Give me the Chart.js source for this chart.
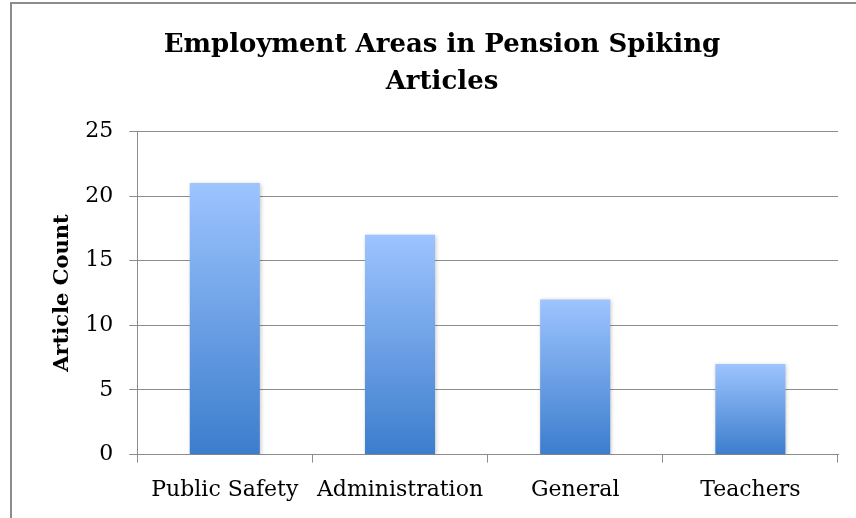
<!DOCTYPE html>
<html>
<head>
<meta charset="utf-8">
<script src="https://cdn.jsdelivr.net/npm/chart.js@4/dist/chart.umd.min.js"></script>
<style>
  html, body { margin: 0; padding: 0; background: #fff; }
  #wrap { position: relative; width: 856px; height: 518px; }
  #frame { position: absolute; left: 10px; top: 2px; right: -10px; bottom: -10px;
           border-left: 2px solid #8c8c8c; border-top: 2px solid #8c8c8c; pointer-events: none; }
</style>
</head>
<body>
<div id="wrap">
  <canvas id="chart" width="856" height="518"></canvas>
  <div id="frame"></div>
</div>
<script>
// categories and counts
const areas = ["Public Safety", "Administration", "General", "Teachers"];
const articleCounts = [21, 17, 12, 7];
const yTicks = [0, 5, 10, 15, 20, 25];

const serif = "'DejaVu Serif', 'Liberation Serif', serif";

// each bar gets its own light-to-dark vertical gradient
function barGradient(context) {
    const chart = context.chart;
    const yScale = chart.scales.y;
    if (!chart.chartArea || !yScale || !context.parsed) return "#6a9be4";
    const top = yScale.getPixelForValue(context.parsed.y);
    const bottom = yScale.getPixelForValue(0);
    if (!isFinite(top) || !isFinite(bottom)) return "#6a9be4";
    const g = chart.ctx.createLinearGradient(0, top, 0, bottom);
    g.addColorStop(0, "#9dc4fe");
    g.addColorStop(1, "#3c7dcd");
    return g;
}

// soft shadow round the bars
const barShadow = {
    id: "barShadow",
    beforeDatasetsDraw(chart) {
        const c = chart.ctx;
        c.save();
        c.shadowColor = "rgba(0, 0, 0, 0.22)";
        c.shadowBlur = 4;
        c.shadowOffsetX = 1;
        c.shadowOffsetY = 1;
    },
    afterDatasetsDraw(chart) {
        chart.ctx.restore();
    },
};

const ctx = document.getElementById("chart").getContext("2d");
new Chart(ctx, {
    type: "bar",
    data: {
        labels: areas,
        datasets: [{
            data: articleCounts,
            backgroundColor: barGradient,
            borderWidth: 0,
            categoryPercentage: 0.4,
            barPercentage: 1.0,
        }]
    },
    options: {
        responsive: false,
        animation: false,
        layout: { padding: { left: 46, right: 18, top: 26, bottom: 1 } },
        plugins: {
            legend: { display: false },
            tooltip: { enabled: false },
            title: {
                display: true,
                text: ["Employment Areas in Pension Spiking", "Articles"],
                color: "#000",
                font: { family: serif, size: 26, weight: "bold", lineHeight: 1.45 },
                padding: { top: 0, bottom: 30 },
            },
        },
        scales: {
            x: {
                grid: { drawOnChartArea: false, drawTicks: true, tickLength: 8, color: "#8c8c8c" },
                border: { color: "#8c8c8c" },
                ticks: { color: "#000", font: { family: serif, size: 22 }, padding: 14 },
            },
            y: {
                min: 0,
                max: 25,
                afterBuildTicks: axis => { axis.ticks = yTicks.map(v => ({ value: v })); },
                grid: { color: "#8c8c8c", tickLength: 8 },
                border: { color: "#8c8c8c" },
                ticks: { color: "#000", font: { family: serif, size: 22 }, padding: 16 },
                title: {
                    display: true,
                    text: "Article Count",
                    color: "#000",
                    font: { family: serif, size: 21, weight: "bold" },
                    padding: { top: 4, bottom: -6 },
                },
            },
        },
    },
    plugins: [barShadow],
});
</script>
</body>
</html>
